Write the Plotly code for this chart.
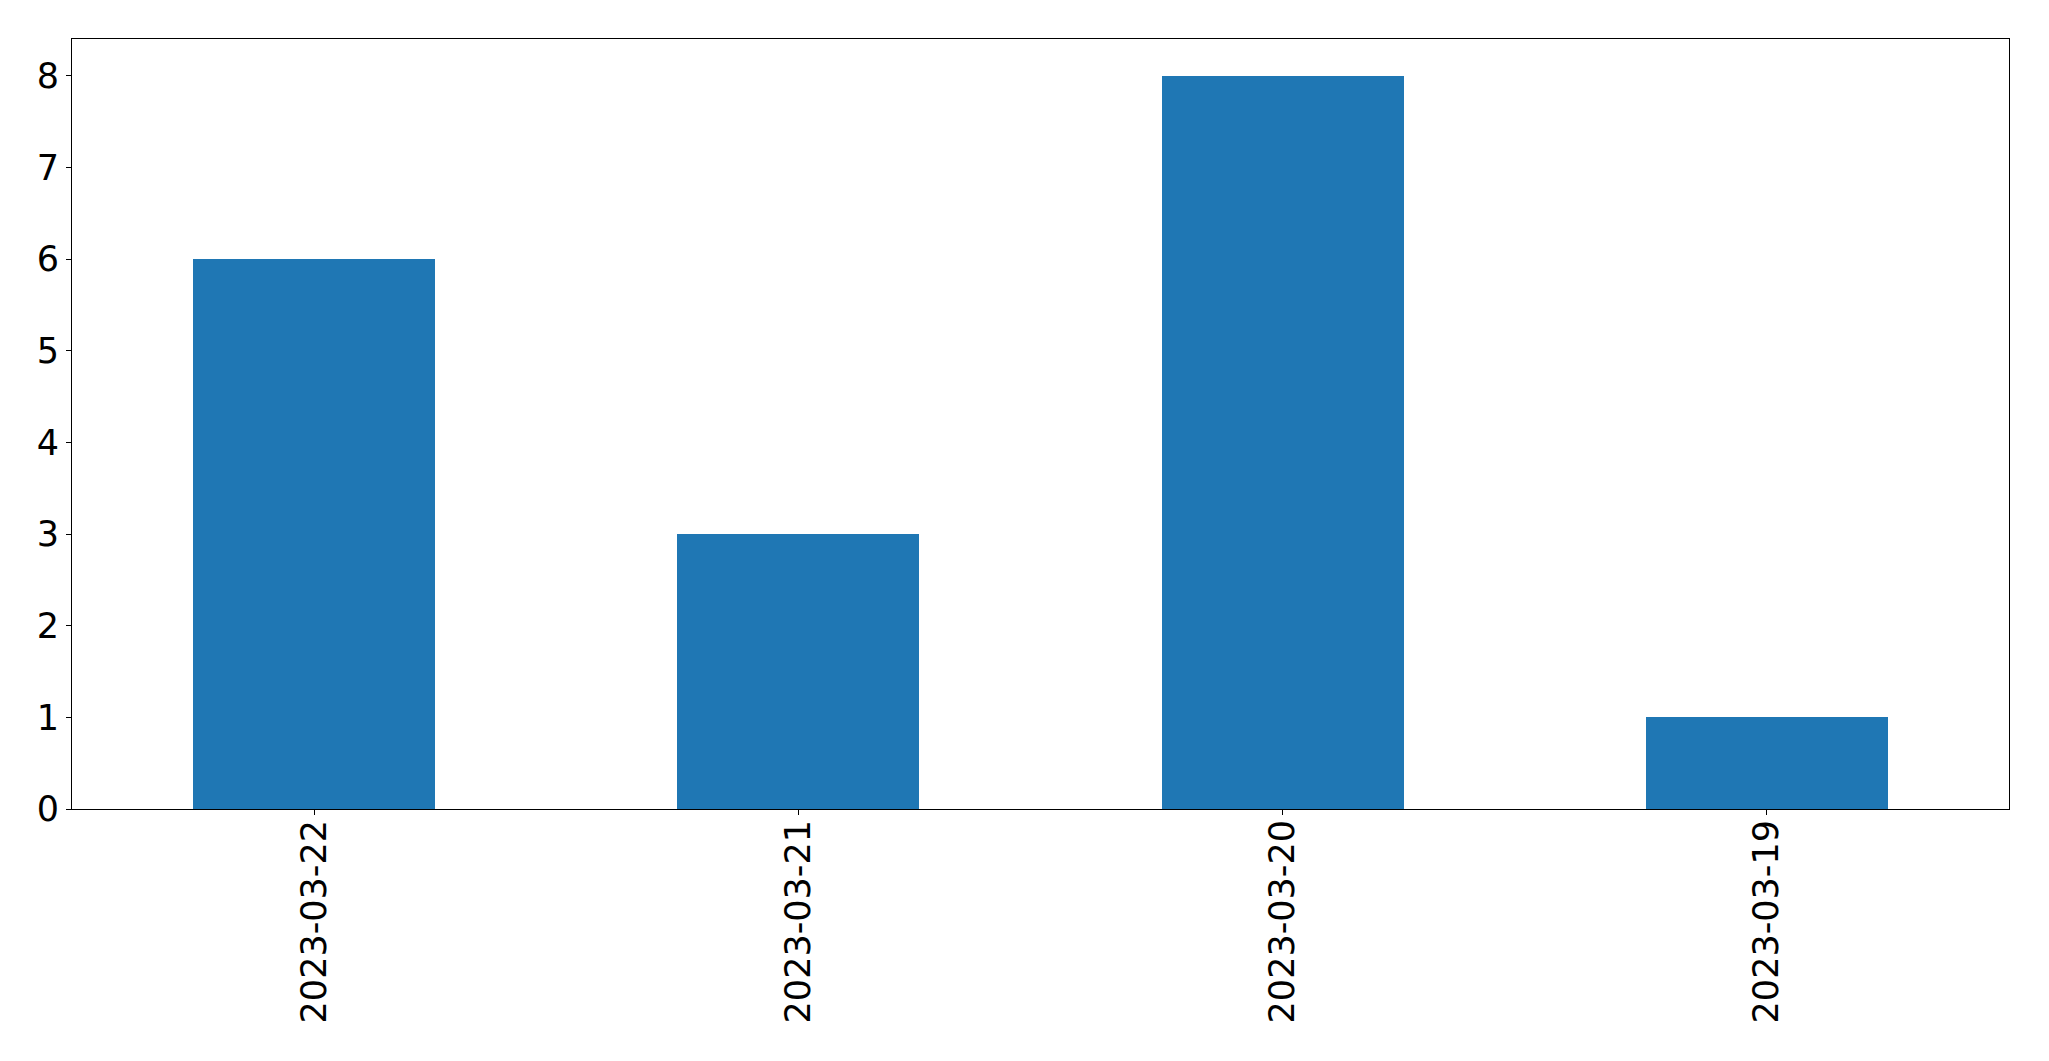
import plotly.graph_objects as go

dates = ["2023-03-22", "2023-03-21", "2023-03-20", "2023-03-19"]
counts = [6, 3, 8, 1]
y_ticks = [0, 1, 2, 3, 4, 5, 6, 7, 8]

fig = go.Figure(
    go.Bar(x=dates, y=counts, width=0.5, marker=dict(color="#1f77b4", line=dict(width=0)))
)

font = dict(family="DejaVu Sans", size=35, color="black")

# page body has an 8px default margin, so the figure is offset by 8px
fig.update_layout(
    width=2041,
    height=1053,
    margin=dict(l=64, r=40, t=31, b=252, autoexpand=False),
    paper_bgcolor="white",
    plot_bgcolor="white",
    showlegend=False,
    bargap=0,
)
fig.update_xaxes(
    type="category",
    range=[-0.5, 3.5],
    tickangle=-90,
    tickfont=font,
    ticks="outside",
    ticklen=5,
    tickwidth=1,
    tickcolor="black",
    ticklabelstandoff=-9,
    showline=True,
    linecolor="black",
    linewidth=1,
    mirror=True,
    showgrid=False,
    zeroline=False,
    automargin=False,
)
fig.update_yaxes(
    range=[0, 8.4],
    tickvals=y_ticks,
    tickfont=font,
    ticks="outside",
    ticklen=5,
    tickwidth=1,
    tickcolor="black",
    showline=True,
    linecolor="black",
    linewidth=1,
    mirror=True,
    showgrid=False,
    zeroline=False,
    automargin=False,
)

fig.write_html("out.html")
